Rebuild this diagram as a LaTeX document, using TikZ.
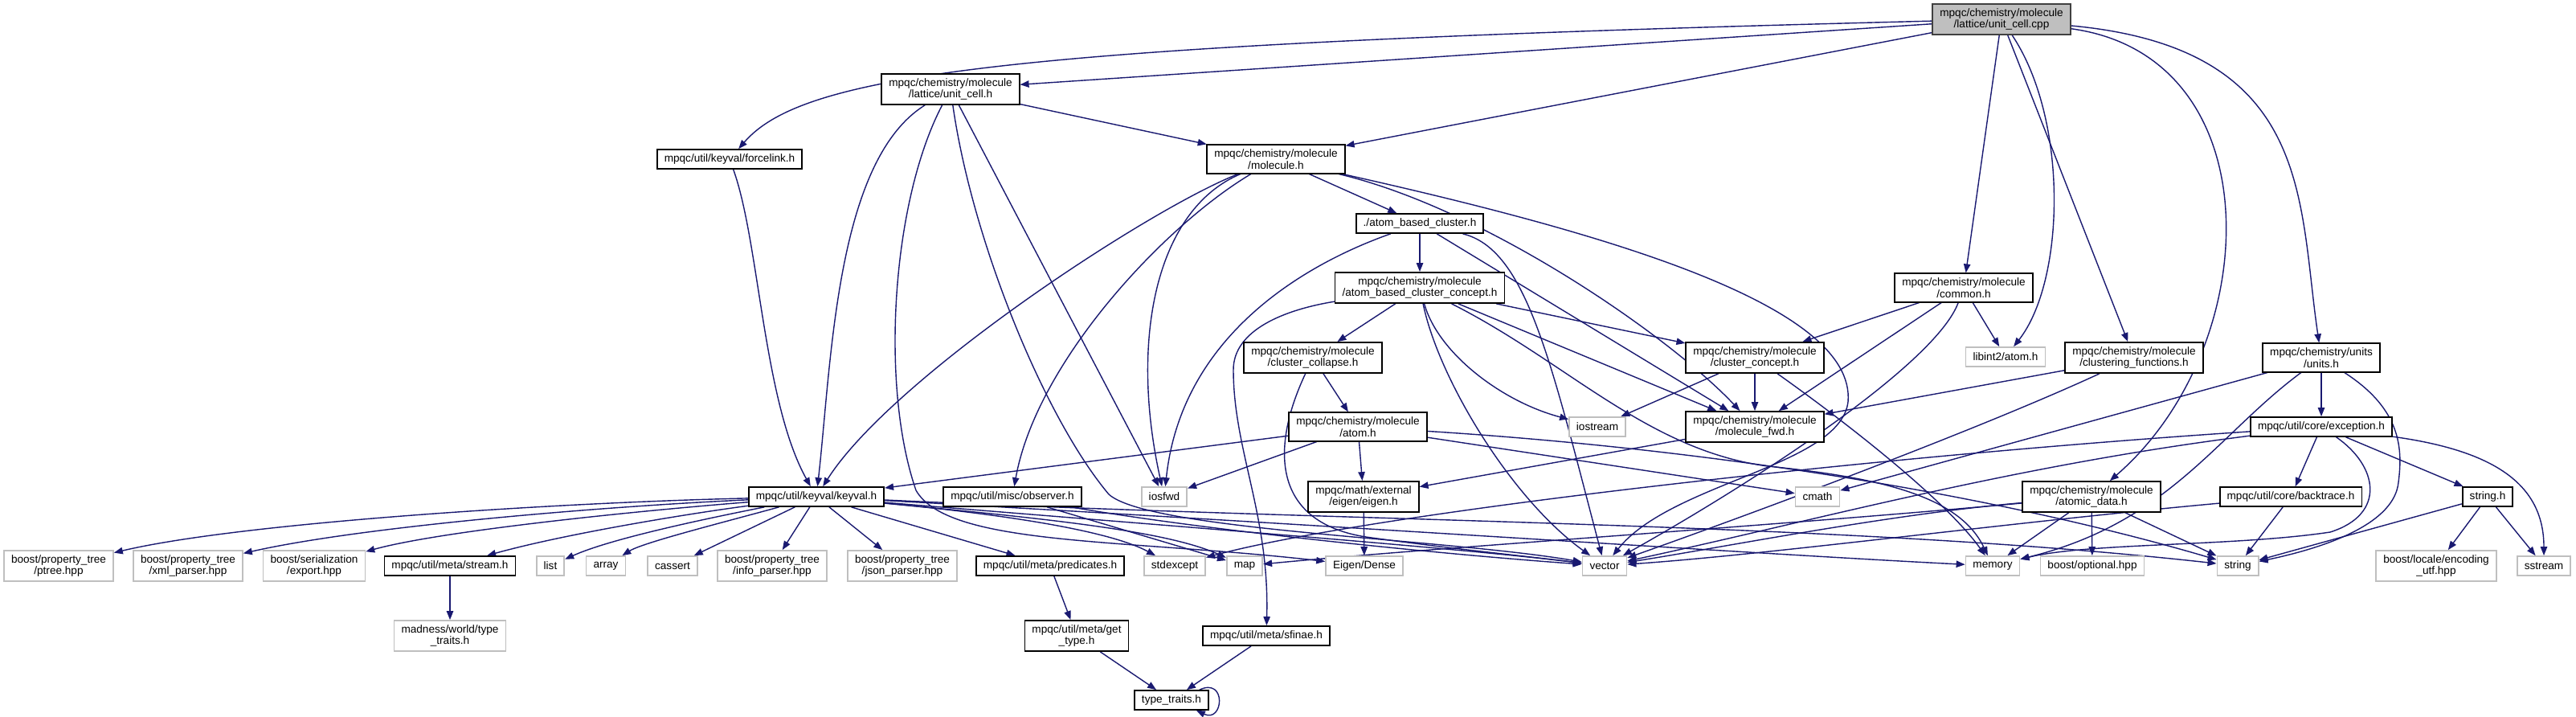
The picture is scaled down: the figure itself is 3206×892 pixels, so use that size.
\documentclass[tikz,border=0pt]{standalone}
\usepackage{fontspec}
\setmainfont{Liberation Sans}
\usetikzlibrary{arrows.meta,backgrounds}
\definecolor{edgeblue}{HTML}{191970}
\definecolor{leafgray}{HTML}{BFBFBF}
\definecolor{rootfill}{HTML}{BFBFBF}
\begin{document}
\begin{tikzpicture}[x=0.5pt,y=-0.5pt,
  every node/.style={font=\fontsize{6.8}{7.2}\selectfont, align=center, inner xsep=4.5pt, inner ysep=2.75pt, minimum height=12pt, line width=0.85pt, fill=white},
  hdr/.style={draw=black},
  leaf/.style={draw=leafgray},
  root/.style={draw=black!75, fill=rootfill},
  e/.style={draw=edgeblue, line width=0.7pt, -{Triangle[length=5.5pt,width=4.2pt]}}]
\useasboundingbox (0,0) rectangle (3206,892);
% rank 0-2
\node[root] (cpp) at (2491,24) {mpqc/chemistry/molecule\\/lattice/unit\_cell.cpp};
\node[hdr] (uc) at (1183,111) {mpqc/chemistry/molecule\\/lattice/unit\_cell.h};
\node[hdr] (fl) at (908,198) {mpqc/util/keyval/forcelink.h};
\node[hdr] (mol) at (1588,198) {mpqc/chemistry/molecule\\/molecule.h};
\node[hdr] (abc) at (1767,278) {./atom\_based\_cluster.h};
\node[hdr] (con) at (1767,358) {mpqc/chemistry/molecule\\/atom\_based\_cluster\_concept.h};
\node[hdr] (com) at (2444,358) {mpqc/chemistry/molecule\\/common.h};
% rank 5
\node[hdr] (cc) at (1634,445) {mpqc/chemistry/molecule\\/cluster\_collapse.h};
\node[hdr] (ccon) at (2184,445) {mpqc/chemistry/molecule\\/cluster\_concept.h};
\node[leaf] (lib) at (2496,444) {libint2/atom.h};
\node[hdr] (cf) at (2656,445) {mpqc/chemistry/molecule\\/clustering\_functions.h};
\node[hdr] (units) at (2889,445) {mpqc/chemistry/units\\/units.h};
% rank 6
\node[hdr] (atom) at (1690,531) {mpqc/chemistry/molecule\\/atom.h};
\node[leaf] (ios) at (1988,531) {iostream};
\node[hdr] (mfwd) at (2184,531) {mpqc/chemistry/molecule\\/molecule\_fwd.h};
\node[hdr] (exc) at (2889,531) {mpqc/util/core/exception.h};
% rank 7
\node[hdr] (kv) at (1016,618) {mpqc/util/keyval/keyval.h};
\node[hdr] (obs) at (1260,618) {mpqc/util/misc/observer.h};
\node[leaf] (iosfwd) at (1449,618) {iosfwd};
\node[hdr] (eig) at (1697,618) {mpqc/math/external\\/eigen/eigen.h};
\node[leaf] (cmath) at (2262,618) {cmath};
\node[hdr] (ad) at (2603,618) {mpqc/chemistry/molecule\\/atomic\_data.h};
\node[hdr] (bt) at (2851,618) {mpqc/util/core/backtrace.h};
\node[hdr] (sh) at (3096,618) {string.h};
% rank 8
\node[leaf] (ptree) at (73,704) {boost/property\_tree\\/ptree.hpp};
\node[leaf] (xml) at (234,704) {boost/property\_tree\\/xml\_parser.hpp};
\node[leaf] (exp) at (391,704) {boost/serialization\\/export.hpp};
\node[hdr] (stream) at (560,704) {mpqc/util/meta/stream.h};
\node[leaf] (list) at (685,704) {list};
\node[leaf] (array) at (754,704) {array};
\node[leaf] (cassert) at (837,704) {cassert};
\node[leaf] (info) at (961,704) {boost/property\_tree\\/info\_parser.hpp};
\node[leaf] (json) at (1123,704) {boost/property\_tree\\/json\_parser.hpp};
\node[hdr] (pred) at (1307,704) {mpqc/util/meta/predicates.h};
\node[leaf] (stdexc) at (1462,704) {stdexcept};
\node[leaf] (map) at (1549,704) {map};
\node[leaf] (edense) at (1698,704) {Eigen/Dense};
\node[leaf] (vec) at (1997,704) {vector};
\node[leaf] (mem) at (2480,704) {memory};
\node[leaf] (opt) at (2604,704) {boost/optional.hpp};
\node[leaf] (str) at (2785,704) {string};
\node[leaf] (loc) at (3032,704) {boost/locale/encoding\\\_utf.hpp};
\node[leaf] (sst) at (3166,704) {sstream};
% rank 9-10
\node[leaf] (madness) at (560,791) {madness/world/type\\\_traits.h};
\node[hdr] (gt) at (1340,791) {mpqc/util/meta/get\\\_type.h};
\node[hdr] (sfinae) at (1576,791) {mpqc/util/meta/sfinae.h};
\node[hdr] (tt) at (1458,871) {type\_traits.h};

\begin{pgfonlayer}{background}
% root
\draw[e] (cpp) -- (uc);
\draw[e] (cpp) .. controls (1250,55) and (1000,92) .. (fl);
\draw[e] (cpp) -- (mol);
\draw[e] (cpp) -- (com);
\draw[e] (cpp) .. controls (2575,150) and (2570,350) .. (lib);
\draw[e] (cpp) -- (cf);
\draw[e] (cpp) .. controls (2830,70) and (2820,430) .. (ad);
\draw[e] (cpp) .. controls (2880,60) and (2860,250) .. (units);
% unit_cell.h
\draw[e] (uc) -- (mol);
\draw[e] (uc) .. controls (1040,200) and (1035,450) .. (kv);
\draw[e] (uc) .. controls (1110,250) and (1095,480) .. (1140,610) .. controls (1180,680) and (1400,670) .. (edense);
\draw[e] (uc) -- (iosfwd);
\draw[e] (uc) .. controls (1210,300) and (1300,520) .. (1380,615) .. controls (1430,660) and (1800,670) .. (vec);
% forcelink.h
\draw[e] (fl) .. controls (945,300) and (950,500) .. (kv);
% molecule.h
\draw[e] (mol) -- (abc);
\draw[e] (mol) .. controls (1430,260) and (1110,470) .. (kv);
\draw[e] (mol) .. controls (1450,280) and (1290,450) .. (obs);
\draw[e] (mol) .. controls (1440,260) and (1405,420) .. (iosfwd);
\draw[e] (mol) .. controls (1850,260) and (2080,420) .. (mfwd);
\draw[e] (mol) .. controls (2000,290) and (2310,380) .. (2300,500) .. controls (2290,580) and (2080,600) .. (vec);
% atom_based_cluster.h
\draw[e] (abc) .. controls (1620,330) and (1470,420) .. (iosfwd);
\draw[e] (abc) -- (con);
\draw[e] (abc) -- (mfwd);
\draw[e] (abc) .. controls (1900,310) and (1930,450) .. (vec);
% atom_based_cluster_concept.h
\draw[e] (con) .. controls (1600,385) and (1535,410) .. (1535,460) .. controls (1535,560) and (1580,640) .. (sfinae);
\draw[e] (con) -- (cc);
\draw[e] (con) .. controls (1790,470) and (1880,620) .. (vec);
\draw[e] (con) .. controls (1790,440) and (1870,500) .. (ios);
\draw[e] (con) -- (mfwd);
\draw[e] (con) -- (ccon);
\draw[e] (con) .. controls (1950,450) and (2050,560) .. (2200,580) .. controls (2350,595) and (2440,620) .. (mem);
% common.h
\draw[e] (com) -- (ccon);
\draw[e] (com) -- (mfwd);
\draw[e] (com) -- (lib);
\draw[e] (com) .. controls (2410,450) and (2200,590) .. (vec);
% cluster_collapse.h
\draw[e] (cc) -- (atom);
\draw[e] (cc) .. controls (1580,560) and (1585,650) .. (1700,668) .. controls (1800,682) and (1900,692) .. (vec);
% cluster_concept.h
\draw[e] (ccon) -- (ios);
\draw[e] (ccon) -- (mfwd);
\draw[e] (ccon) .. controls (2290,520) and (2420,620) .. (mem);
% clustering_functions.h
\draw[e] (cf) -- (mfwd);
\draw[e] (cf) .. controls (2450,540) and (2150,650) .. (vec);
% units.h
\draw[e] (units) -- (exc);
\draw[e] (units) -- (cmath);
\draw[e] (units) .. controls (2760,540) and (2700,650) .. (mem);
\draw[e] (units) .. controls (2990,510) and (2990,560) .. (2985,600) .. controls (2980,650) and (2900,680) .. (str);
% atom.h
\draw[e] (atom) -- (kv);
\draw[e] (atom) -- (iosfwd);
\draw[e] (atom) -- (eig);
\draw[e] (atom) -- (cmath);
\draw[e] (atom) .. controls (2150,560) and (2500,620) .. (str);
% molecule_fwd.h
\draw[e] (mfwd) -- (eig);
% exception.h
\draw[e] (exc) .. controls (2300,570) and (1700,640) .. (stdexc);
\draw[e] (exc) .. controls (2500,580) and (2250,650) .. (vec);
\draw[e] (exc) -- (bt);
\draw[e] (exc) .. controls (2960,580) and (2970,640) .. (2900,662) .. controls (2780,680) and (2600,675) .. (mem);
\draw[e] (exc) -- (sh);
\draw[e] (exc) .. controls (3100,560) and (3166,600) .. (sst);
% keyval.h
\draw[e] (kv) .. controls (700,625) and (300,650) .. (ptree);
\draw[e] (kv) .. controls (750,630) and (450,655) .. (xml);
\draw[e] (kv) .. controls (800,635) and (550,660) .. (exp);
\draw[e] (kv) .. controls (850,640) and (700,665) .. (stream);
\draw[e] (kv) .. controls (880,645) and (760,670) .. (list);
\draw[e] (kv) .. controls (900,650) and (800,675) .. (array);
\draw[e] (kv) -- (cassert);
\draw[e] (kv) -- (info);
\draw[e] (kv) -- (json);
\draw[e] (kv) -- (pred);
\draw[e] (kv) .. controls (1250,640) and (1380,660) .. (stdexc);
\draw[e] (kv) .. controls (1300,645) and (1450,660) .. (map);
\draw[e] (kv) .. controls (1400,650) and (1800,680) .. (vec);
\draw[e] (kv) .. controls (1600,650) and (2200,690) .. (mem);
\draw[e] (kv) .. controls (1700,650) and (2300,650) .. (str);
% observer.h
\draw[e] (obs) -- (map);
\draw[e] (obs) .. controls (1500,660) and (1800,690) .. (vec);
% atomic_data.h
\draw[e] (ad) .. controls (2350,640) and (2150,680) .. (vec);
\draw[e] (ad) .. controls (2200,655) and (1800,680) .. (map);
\draw[e] (ad) -- (mem);
\draw[e] (ad) -- (opt);
\draw[e] (ad) -- (str);
% backtrace.h
\draw[e] (bt) -- (str);
\draw[e] (bt) .. controls (2500,650) and (2200,690) .. (vec);
% string.h
\draw[e] (sh) -- (str);
\draw[e] (sh) -- (loc);
\draw[e] (sh) -- (sst);
% others
\draw[e] (eig) -- (edense);
\draw[e] (stream) -- (madness);
\draw[e] (pred) -- (gt);
\draw[e] (gt) -- (tt);
\draw[e] (sfinae) -- (tt);
\draw[e] ([xshift=-6pt]tt.north east) .. controls +(34,-16) and +(34,16) .. ([xshift=-8pt]tt.south east);
\end{pgfonlayer}
\end{tikzpicture}
\end{document}
